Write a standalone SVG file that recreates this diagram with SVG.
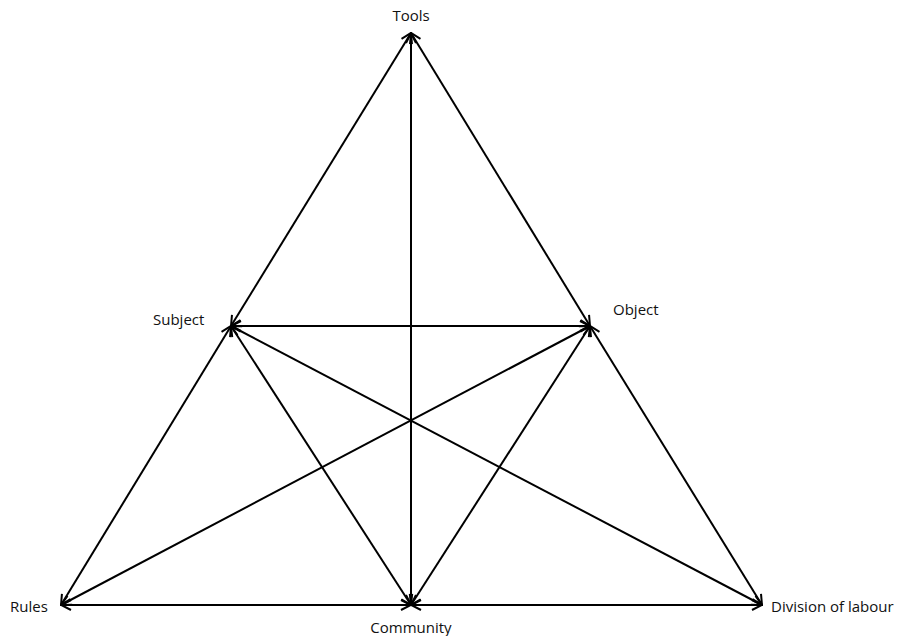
<svg xmlns="http://www.w3.org/2000/svg" width="905" height="636" viewBox="0 0 905 636">
<defs>
<marker id="ah" viewBox="0 0 12 12" refX="11" refY="6" markerWidth="12" markerHeight="12" markerUnits="userSpaceOnUse" orient="auto-start-reverse">
<path d="M1,1 L11,6 L1,11" fill="none" stroke="#000" stroke-width="2"/>
</marker>
<style>
.e{stroke:#000;stroke-width:2;fill:none;marker-start:url(#ah);marker-end:url(#ah)}
.t{font-family:"Open Sans","Liberation Sans",sans-serif;font-size:15px;fill:#111}
</style>
</defs>
<rect width="905" height="636" fill="#fff"/>
<g id="connectors">
<line class="e" x1="411" y1="33" x2="231" y2="326"/>
<line class="e" x1="411" y1="33" x2="590" y2="326"/>
<line class="e" x1="411" y1="33" x2="411" y2="605"/>
<line class="e" x1="231" y1="326" x2="590" y2="326"/>
<line class="e" x1="231" y1="326" x2="61" y2="605"/>
<line class="e" x1="231" y1="326" x2="411" y2="605"/>
<line class="e" x1="231" y1="326" x2="762" y2="605"/>
<line class="e" x1="590" y1="326" x2="61" y2="605"/>
<line class="e" x1="590" y1="326" x2="411" y2="605"/>
<line class="e" x1="590" y1="326" x2="762" y2="605"/>
<line class="e" x1="61" y1="605" x2="411" y2="605"/>
<line class="e" x1="411" y1="605" x2="762" y2="605"/>
</g>
<g id="tools"><text class="t" x="411" y="21" text-anchor="middle">Tools</text></g>
<g id="subject"><text class="t" x="153" y="325">Subject</text></g>
<g id="object"><text class="t" x="613" y="315">Object</text></g>
<g id="rules"><text class="t" x="10" y="612">Rules</text></g>
<g id="community"><text class="t" x="411" y="633" text-anchor="middle">Community</text></g>
<g id="division"><text class="t" x="771" y="612">Division of labour</text></g>
</svg>
